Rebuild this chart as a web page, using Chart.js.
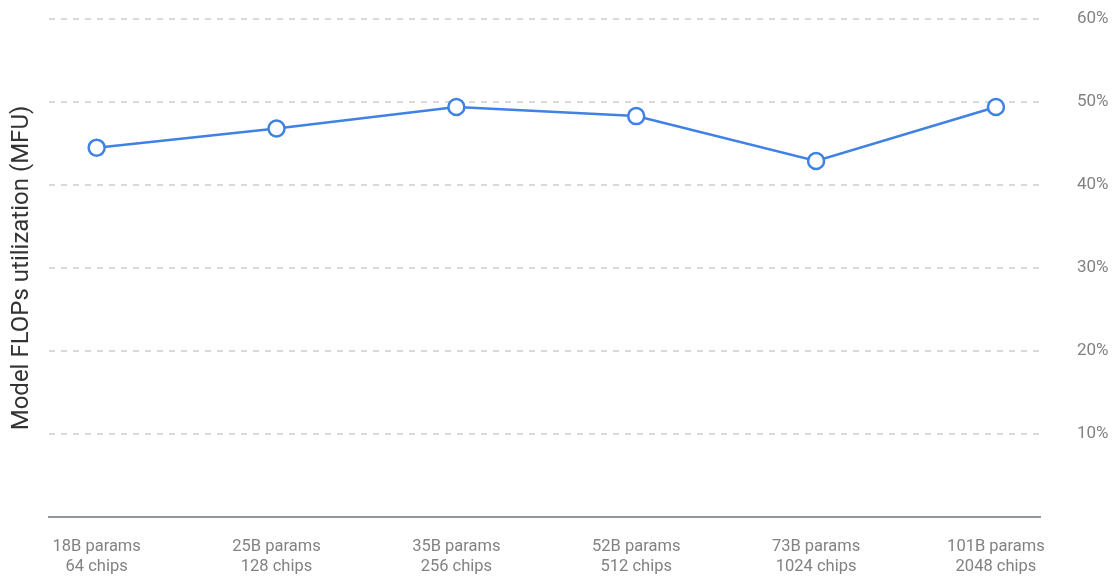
<!DOCTYPE html>
<html>
<head>
<meta charset="utf-8">
<script src="https://cdn.jsdelivr.net/npm/chart.js@4/dist/chart.umd.min.js"></script>
<style>
html,body{margin:0;padding:0;background:#fff;}
#wrap{width:1119px;height:576px;position:relative;}
</style>
</head>
<body>
<div id="wrap"><canvas id="c" width="1119" height="576"></canvas></div>
<script>
const paramLabels = ["18B params","25B params","35B params","52B params","73B params","101B params"];
const chipLabels = ["64 chips","128 chips","256 chips","512 chips","1024 chips","2048 chips"];
const mfuValues = [44.5, 46.8, 49.4, 48.3, 42.9, 49.4];
const yTicks = [0,10,20,30,40,50,60];

const points = mfuValues.map((v,i)=>({x:i,y:v}));

new Chart(document.getElementById('c'), {
  type: 'line',
  data: {
    datasets: [{
      data: points,
      borderColor: '#3f82e4',
      borderWidth: 2.5,
      pointRadius: 8,
      pointHoverRadius: 8,
      pointBackgroundColor: '#ffffff',
      pointBorderColor: '#3f82e4',
      pointBorderWidth: 2.5,
      tension: 0
    }]
  },
  options: {
    responsive: false,
    animation: false,
    plugins: { legend: {display:false}, tooltip:{enabled:false} },
    layout: { padding: {top: 0, left: 0, right: 0, bottom: 0} },
    scales: {
      x: {
        type: 'linear',
        min: -0.265,
        max: 5.245,
        afterBuildTicks: (ax) => { ax.ticks = paramLabels.map((_,i)=>({value:i})); },
        afterFit: (ax) => { ax.height = 59; },
        grid: { display: false, drawTicks: false },
        border: { display: true, color: '#90959a', width: 2 },
        ticks: {
          padding: 20,
          autoSkip: false,
          maxRotation: 0,
          color: '#828282',
          font: { family: 'Roboto', size: 16.5, lineHeight: 1.22 },
          callback: (v) => { const i = Math.round(v); return [paramLabels[i], chipLabels[i]]; }
        }
      },
      y: {
        position: 'right',
        min: 0,
        max: 60,
        afterBuildTicks: (ax) => { ax.ticks = yTicks.map(v=>({value:v})); },
        afterFit: (ax) => { ax.width = 79; ax.paddingTop = 19; ax.paddingBottom = 0; },
        grid: {
          color: (ctx) => ctx.tick && ctx.tick.value === 0 ? 'rgba(0,0,0,0)' : '#d9d9d9',
          lineWidth: 2,
          drawTicks: false
        },
        border: { display: false, dash: [6,6] },
        ticks: {
          padding: 37,
          color: '#828282',
          font: { family: 'Roboto', size: 17 },
          callback: (v) => v === 0 ? '' : v + '%'
        }
      },
      yL: {
        position: 'left',
        min: 0,
        max: 60,
        afterFit: (ax) => { ax.width = 49; ax.paddingTop = 19; ax.paddingBottom = 0; },
        grid: { display: false, drawTicks: false },
        border: { display: false },
        ticks: { display: false },
        title: {
          display: true,
          text: 'Model FLOPs utilization (MFU)',
          color: '#333333',
          font: { family: 'Roboto', size: 24 },
          padding: { top: 8, bottom: 0 }
        }
      }
    }
  }
});
</script>
</body>
</html>
